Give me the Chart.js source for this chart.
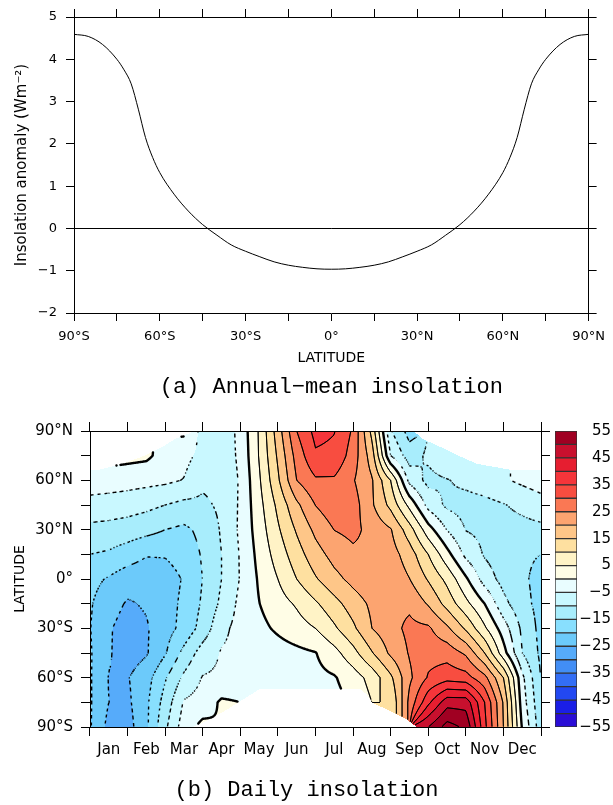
<!DOCTYPE html>
<html>
<head>
<meta charset="utf-8">
<title>Insolation anomaly</title>
<script src="https://cdn.jsdelivr.net/npm/chart.js"></script>
<style>
  body { margin: 0; background: #fff; }
  #wrap { position: relative; width: 613px; height: 805px; overflow: hidden; background: #fff; }
  canvas { position: absolute; }
  #annualChart { left: 0; top: 0; }
  #dailyChart { left: 0; top: 400px; }
  #colorBar { left: 545px; top: 400px; }
</style>
</head>
<body>
<div id="wrap">
  <canvas id="annualChart" width="613" height="400"></canvas>
  <canvas id="dailyChart" width="613" height="405"></canvas>
  <canvas id="colorBar" width="68" height="405"></canvas>
</div>
<script>
// (a) annual-mean insolation anomaly (W m-2) by latitude
const annualLat = [-90, -85, -80, -75, -72.5, -70, -67.5, -65, -62.5, -60, -55, -50, -45, -40, -35, -30, -25, -20, -15, -10, -5, 0,
                   5, 10, 15, 20, 25, 30, 35, 40, 45, 50, 55, 60, 62.5, 65, 67.5, 70, 72.5, 75, 80, 85, 90];
const annualAnomaly = [4.59, 4.54, 4.35, 4.0, 3.75, 3.42, 2.82, 2.15, 1.68, 1.32, 0.81, 0.41, 0.09, -0.16, -0.39, -0.54, -0.67, -0.79, -0.87, -0.92, -0.955, -0.965,
                       -0.955, -0.92, -0.87, -0.79, -0.67, -0.54, -0.39, -0.16, 0.09, 0.41, 0.81, 1.32, 1.68, 2.15, 2.82, 3.42, 3.75, 4.0, 4.35, 4.54, 4.59];
const latLabels = ['90°S', '60°S', '30°S', '0°', '30°N', '60°N', '90°N'];

// (b) daily insolation anomaly: one row per latitude, one value per half month (Jan 1 .. Dec 31)
// null = no value; cells inside the polar night are blanked separately below
const months = ['Jan', 'Feb', 'Mar', 'Apr', 'May', 'Jun', 'Jul', 'Aug', 'Sep', 'Oct', 'Nov', 'Dec'];
const gridMonths = [0, 0.5, 1, 1.5, 2, 2.5, 3, 3.5, 4, 4.5, 5, 5.5, 6, 6.5, 7, 7.5, 8, 8.5, 9, 9.5, 10, 10.5, 11, 11.5, 12];
const gridLats = [90, 75, 60, 45, 30, 15, 0, -15, -30, -45, -60, -75, -90];

const insol90N = [null, null, null, null, 1, 1, -7, -8.5, -3.5, 5.5, 17.5, 30, 36.5, 35.2, 29.3, 13.5, -9.5, -17, null, null, null, null, null, null, null];
const insol75N = [null, 2, 1.5, 1, -2, -3.5, -6.5, -8, -4, 5.3, 15.8, 27, 34.3, 33.8, 27.7, 17.5, -5, -12.5, -9, -5.3, null, null, null, null, null];
const insol60N = [-2, -2.5, -3, -3.5, -4, -5.2, -9, -8.5, -4.5, 4.3, 14.2, 25, 29.3, 29.3, 25.4, 20.5, 10, -6.5, -11.5, -10.3, -8.7, -7.3, -5.6, -4, -2.5];
const insol45N = [-7, -7.3, -7.8, -8.7, -10, -11.3, -11, -9.1, -4.3, 3.3, 11.2, 18.9, 25.1, 28.3, 27.3, 20.7, 13.6, 3.6, -6.7, -11, -12, -11.5, -10.3, -8.8, -7.2];
const insol30N = [-11.2, -11.6, -12.3, -13.4, -15, -16, -13.7, -9.5, -4.1, 2.4, 9.3, 15.6, 21.2, 25.1, 26.3, 23.4, 20.4, 12.2, 2.1, -5.2, -10.2, -11.3, -11.8, -11.6, -11.2];
const insol15N = [-15, -15.7, -17.5, -19.6, -19.6, -18, -14.5, -10, -4.6, 1.5, 7.2, 12.8, 18, 21.8, 24, 24, 22.2, 17.5, 10, 1.7, -6.3, -10.5, -13, -14.3, -15];
const insolEq  = [-18.5, -20.5, -22.8, -23.4, -22.2, -19.6, -14.9, -10, -4.7, 0.6, 5, 10, 14.5, 18.5, 21.5, 23.7, 23.5, 20.1, 14.5, 8.6, 0.8, -7.2, -11.8, -14.2, -16.5];
const insol15S = [-19.5, -23, -25.5, -24.5, -22, -19, -14.3, -9, -3.7, -0.1, 2.9, 5.6, 9.3, 13.3, 17.5, 21, 23.8, 24, 19.5, 13.2, 6.4, 0, -8.5, -13.5, -16.5];
const insol30S = [-19.8, -24.5, -27, -25.5, -22, -18.5, -13, -6.3, -3.3, -1.3, 0.8, 2.9, 5, 9.2, 14, 20, 23.3, 26.2, 25.8, 21, 14.2, 5.8, -2.5, -11, -16.5];
const insol45S = [-19.5, -24.5, -27.5, -25.5, -20.5, -13.5, -7.7, -4.6, -3.8, -3, -2.1, -1.2, -0.2, 3.3, 8.3, 14.6, 21, 25.4, 28.2, 28, 24.2, 15, 2, -10, -16];
const insol60S = [-19.5, -25.2, -25.3, -22, -15.5, -9, -4.7, -4.2, -3.7, -3.2, -2.6, -2, -1.3, -0.4, 2.5, 6.9, 14, 24, 30.5, 33, 32, 26.5, 15, -3.8, -15.3];
const insol75S = [-19.5, -25, -26, -21, -13, -4.5, -3, 0.8, null, null, null, null, null, -1.5, 0.5, null, 10, 26.5, 38.8, 48, 48, 35, 19.5, -2.5, -14];
const insol90S = [-19.5, -26.5, -27, -21, -11, -2.5, 1.5, null, null, null, null, null, null, null, null, null, null, null, 50, 57, 54, 36.5, 20, -0.5, -13];
const gridRows = [insol90N, insol75N, insol60N, insol45N, insol30N, insol15N, insolEq, insol15S, insol30S, insol45S, insol60S, insol75S, insol90S];

// polar night, left blank in the figure (months)
const nightLatN = [90, 85, 80, 75, 70, 66];
const nightEndN = [2.8, 2.25, 1.9, 1.45, 0.86, 0.15];
const nightStartN = [8.6, 8.87, 9.35, 9.8, 10.3, 11.3];
const nightLatS = [-90, -85, -80, -75, -70, -67];
const nightStartS = [2.75, 3.2, 3.6, 3.95, 4.3, 4.5];
const nightEndS = [8.69, 8.4, 7.95, 7.5, 7.35, 7.2];

// colour bar
const levels = [-55, -50, -45, -40, -35, -30, -25, -20, -15, -10, -5, 0, 5, 10, 15, 20, 25, 30, 35, 40, 45, 50, 55];
const bandColors = ['#2a0dd6', '#1a1ee6', '#2248f2', '#336ef5', '#428ef5', '#56abfa', '#6ccafa', '#88dffe', '#a8edfc', '#c9f8ff', '#e9fdff',
                    '#fffde6', '#fff3c6', '#fee0a0', '#fec688', '#fca470', '#fa7854', '#f84d40', '#f5353a', '#e61e30', '#c8102e', '#a00022'];
const barTicks = [-55, -45, -35, -25, -15, -5, 5, 15, 25, 35, 45, 55];

Chart.defaults.font.family = "'DejaVu Sans', sans-serif";
Chart.defaults.color = '#000';

function minus(v) { return v < 0 ? '\u2212' + Math.abs(v) : String(v); }
function latLabel(v) { return v % 30 === 0 ? latLabels[(v + 90) / 30] : ''; }
function hexToRgb(h) { const n = parseInt(h.slice(1), 16); return [n >> 16, (n >> 8) & 255, n & 255]; }

function lerpTable(xs, ys, x) {
  for (let k = 0; k < xs.length - 1; k++) {
    const a = xs[k], b = xs[k + 1];
    if ((x - a) * (x - b) <= 0) return ys[k] + (x - a) / (b - a) * (ys[k + 1] - ys[k]);
  }
  return null;
}

function isNight(m, lat) {
  if (lat >= nightLatN[nightLatN.length - 1]) {
    return m < lerpTable(nightLatN, nightEndN, lat) || m > lerpTable(nightLatN, nightStartN, lat);
  }
  if (lat <= nightLatS[nightLatS.length - 1]) {
    return m > lerpTable(nightLatS, nightStartS, lat) && m < lerpTable(nightLatS, nightEndS, lat);
  }
  return false;
}

function fieldAt(m, lat) {
  let i = 0, j = 0;
  while (i < gridMonths.length - 2 && m > gridMonths[i + 1]) i++;
  while (j < gridLats.length - 2 && lat < gridLats[j + 1]) j++;
  const tx = Math.min(1, Math.max(0, (m - gridMonths[i]) / (gridMonths[i + 1] - gridMonths[i])));
  const ty = Math.min(1, Math.max(0, (lat - gridLats[j]) / (gridLats[j + 1] - gridLats[j])));
  const corners = [[j, i, (1 - tx) * (1 - ty)], [j, i + 1, tx * (1 - ty)], [j + 1, i, (1 - tx) * ty], [j + 1, i + 1, tx * ty]];
  let s = 0, ws = 0;
  for (const [r, c, w] of corners) {
    const v = gridRows[r][c];
    if (v !== null && w > 0) { s += v * w; ws += w; }
  }
  return ws > 0 ? s / ws : NaN;
}

// shaded field + contour lines, placed with the chart's own scales
const fieldPlugin = {
  id: 'insolField',
  beforeDraw(chart) {
    const { ctx, chartArea: area, scales: { x, y } } = chart;
    const ox = area.left, oy = area.top;
    const w = Math.round(area.right - area.left), h = Math.round(area.bottom - area.top);
    const colW = (x.getPixelForValue(11) - x.getPixelForValue(0)) / 11;
    const jan1 = x.getPixelForValue(0) - colW / 2;
    const step = levels[1] - levels[0];
    const rgb = bandColors.map(hexToRgb);
    const vals = new Float32Array(w * h);
    const off = document.createElement('canvas');
    off.width = w; off.height = h;
    const octx = off.getContext('2d');
    const img = octx.createImageData(w, h);
    const d = img.data;

    for (let r = 0; r < h; r++) {
      const lat = y.getValueForPixel(oy + r + 0.5);
      for (let c = 0; c < w; c++) {
        const m = (ox + c + 0.5 - jan1) / colW;
        const v = isNight(m, lat) ? NaN : fieldAt(m, lat);
        const p = r * w + c;
        vals[p] = v;
        if (!isNaN(v)) {
          const k = Math.max(0, Math.min(bandColors.length - 1, Math.floor((v - levels[0]) / step)));
          d[p * 4] = rgb[k][0]; d[p * 4 + 1] = rgb[k][1]; d[p * 4 + 2] = rgb[k][2]; d[p * 4 + 3] = 255;
        }
      }
    }
    octx.putImageData(img, 0, 0);
    ctx.drawImage(off, ox, oy);

    // contours every 5 (marching squares): negative dashed, zero thick
    const solid = new Path2D(), zero = new Path2D(), dashed = new Path2D();
    const pts = [];
    for (let r = 0; r < h - 1; r++) {
      for (let c = 0; c < w - 1; c++) {
        const p = r * w + c;
        const a = vals[p], b = vals[p + 1], e = vals[p + w + 1], f = vals[p + w];
        if (isNaN(a) || isNaN(b) || isNaN(e) || isNaN(f)) continue;
        const lo = Math.min(a, b, e, f), hi = Math.max(a, b, e, f);
        for (let L = Math.ceil(lo / step) * step; L <= hi; L += step) {
          pts.length = 0;
          const edge = (v1, v2, x1, y1, x2, y2) => {
            if ((v1 >= L) !== (v2 >= L)) {
              const t = (L - v1) / (v2 - v1);
              pts.push(x1 + t * (x2 - x1), y1 + t * (y2 - y1));
            }
          };
          edge(a, b, c, r, c + 1, r);
          edge(b, e, c + 1, r, c + 1, r + 1);
          edge(e, f, c + 1, r + 1, c, r + 1);
          edge(f, a, c, r + 1, c, r);
          for (let k = 0; k + 3 < pts.length; k += 4) {
            const x1 = pts[k], y1 = pts[k + 1], x2 = pts[k + 2], y2 = pts[k + 3];
            let path = L === 0 ? zero : solid;
            if (L < 0) {
              const gx = (b - a + e - f) / 2, gy = (f - a + e - b) / 2, g = Math.hypot(gx, gy) || 1;
              const s = ((x1 + x2) / 2 * -gy + (y1 + y2) / 2 * gx) / g;
              if (((Math.floor(s / 3.5) % 2) + 2) % 2 === 1) continue;
              path = dashed;
            }
            path.moveTo(ox + x1 + 0.5, oy + y1 + 0.5);
            path.lineTo(ox + x2 + 0.5, oy + y2 + 0.5);
          }
        }
      }
    }
    ctx.save();
    ctx.beginPath();
    ctx.rect(area.left, area.top, area.right - area.left, area.bottom - area.top);
    ctx.clip();
    ctx.strokeStyle = '#000';
    ctx.lineCap = 'round';
    ctx.lineWidth = 1;
    ctx.stroke(solid);
    ctx.lineCap = 'butt';
    ctx.lineWidth = 1.4;
    ctx.stroke(dashed);
    ctx.lineCap = 'round';
    ctx.lineWidth = 2.4;
    ctx.stroke(zero);
    ctx.restore();
  }
};

const blackGrid = { drawOnChartArea: false, color: '#000', tickColor: '#000', tickLength: 8 };

// (a) line chart
new Chart(document.getElementById('annualChart'), {
  type: 'line',
  data: {
    datasets: [{
      data: annualLat.map((lat, i) => ({ x: lat, y: annualAnomaly[i] })),
      borderColor: '#000', borderWidth: 1, pointRadius: 0,
      cubicInterpolationMode: 'monotone', fill: false
    }]
  },
  options: {
    responsive: false, animation: false, devicePixelRatio: 1,
    layout: { padding: 0 },
    plugins: {
      legend: { display: false }, tooltip: { enabled: false },
      title: {
        display: true, position: 'bottom', fullSize: false,
        text: '(a) Annual\u2212mean insolation', color: '#000',
        font: { family: "'Liberation Mono', monospace", size: 22, weight: 'normal' },
        padding: { top: 4, bottom: 0 }
      }
    },
    scales: {
      x: {
        type: 'linear', position: 'bottom', min: -90, max: 90,
        ticks: { stepSize: 15, autoSkip: false, maxRotation: 0, padding: 8, font: { size: 13 }, callback: latLabel },
        grid: blackGrid, border: { color: '#000' },
        title: { display: true, text: 'LATITUDE', font: { size: 14 }, padding: { top: 3, bottom: 3 } },
        afterFit: s => { s.height = 56.6; }
      },
      xTop: {
        type: 'linear', position: 'top', min: -90, max: 90,
        ticks: { stepSize: 15, display: false },
        grid: blackGrid, border: { color: '#000' },
        afterFit: s => { s.height = 17; }
      },
      y: {
        type: 'linear', position: 'left', min: -2, max: 5,
        ticks: { stepSize: 1, padding: 9, font: { size: 13 }, callback: minus },
        grid: {
          drawOnChartArea: true, tickColor: '#000', tickLength: 8,
          color: c => (c.tick && c.tick.value === 0 ? '#000' : 'rgba(0,0,0,0)')
        },
        border: { color: '#000' },
        title: { display: true, text: 'Insolation anomaly (Wm\u207B\u00B2)', font: { size: 15 }, padding: { top: 13, bottom: 13 } },
        afterFit: s => { s.width = 74; }
      },
      yRight: {
        type: 'linear', position: 'right', min: -2, max: 5,
        ticks: { stepSize: 1, display: false },
        grid: blackGrid, border: { color: '#000' },
        afterFit: s => { s.width = 18; }
      }
    }
  }
});

// (b) latitude-month field
new Chart(document.getElementById('dailyChart'), {
  type: 'scatter',
  data: { labels: months, datasets: [{ data: [], pointRadius: 0 }] },
  options: {
    responsive: false, animation: false, devicePixelRatio: 1,
    layout: { padding: 0 },
    plugins: {
      legend: { display: false }, tooltip: { enabled: false },
      title: {
        display: true, position: 'bottom',
        text: '(b) Daily insolation', color: '#000',
        font: { family: "'Liberation Mono', monospace", size: 22, weight: 'normal' },
        padding: { top: 4, bottom: 2 }
      }
    },
    scales: {
      x: {
        type: 'category', position: 'bottom', labels: months, offset: true,
        ticks: { padding: 5, font: { size: 15 }, maxRotation: 0, autoSkip: false },
        grid: Object.assign({}, blackGrid, { offset: true, tickLength: 9 }), border: { color: '#000' },
        afterFit: s => { s.height = 45.6; }
      },
      xTop: {
        type: 'category', position: 'top', labels: months, offset: true,
        ticks: { display: false },
        grid: Object.assign({}, blackGrid, { offset: true, tickLength: 9 }), border: { color: '#000' },
        afterFit: s => { s.height = 31; }
      },
      y: {
        type: 'linear', position: 'left', min: -90, max: 90,
        ticks: { stepSize: 15, autoSkip: false, padding: 8, font: { size: 15 }, callback: latLabel },
        grid: Object.assign({}, blackGrid, { tickLength: 9 }), border: { color: '#000' },
        title: { display: true, text: 'LATITUDE', font: { size: 14 }, padding: { top: 11.6, bottom: 11.6 } },
        afterFit: s => { s.width = 90; }
      },
      yRight: {
        type: 'linear', position: 'right', min: -90, max: 90,
        ticks: { stepSize: 15, display: false },
        grid: Object.assign({}, blackGrid, { tickLength: 9 }), border: { color: '#000' },
        afterFit: s => { s.width = 72; }
      }
    }
  },
  plugins: [fieldPlugin]
});

// colour bar
new Chart(document.getElementById('colorBar'), {
  type: 'bar',
  data: {
    labels: [''],
    datasets: bandColors.map((col, k) => ({
      data: [[levels[k], levels[k + 1]]],
      backgroundColor: col, borderColor: '#333', borderWidth: 1, borderSkipped: false,
      barPercentage: 1, categoryPercentage: 1, grouped: false
    }))
  },
  options: {
    responsive: false, animation: false, devicePixelRatio: 1,
    layout: { padding: { left: 10, right: 2, top: 31, bottom: 78 } },
    plugins: { legend: { display: false }, tooltip: { enabled: false } },
    scales: {
      x: { display: false },
      y: {
        position: 'right', min: -55, max: 55,
        afterBuildTicks: s => { s.ticks = barTicks.map(v => ({ value: v })); },
        ticks: { crossAlign: 'far', padding: 0, font: { size: 15 }, callback: minus },
        grid: { display: false }, border: { display: false },
        afterFit: s => { s.width = 34; }
      }
    }
  }
});
</script>
</body>
</html>
